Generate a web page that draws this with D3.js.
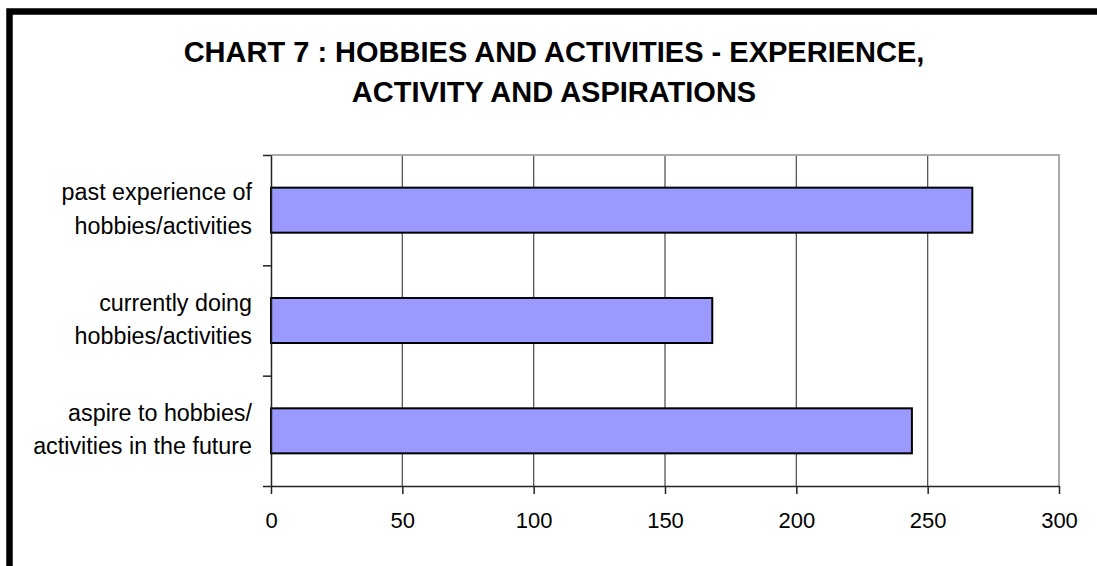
<!DOCTYPE html>
<html>
<head>
<meta charset="utf-8">
<script src="https://cdn.jsdelivr.net/npm/d3@7"></script>
<style>
  html, body { margin: 0; padding: 0; background: #fff; }
  svg { display: block; }
  text { font-family: "Liberation Sans", Arial, sans-serif; fill: #000; }
</style>
</head>
<body>
<svg id="chart" width="1097" height="566"></svg>
<script>
const categories = [
  ["past experience of", "hobbies/activities"],
  ["currently doing", "hobbies/activities"],
  ["aspire to hobbies/", "activities in the future"]
];
const values = [267, 168, 244];
const xTicks = [0, 50, 100, 150, 200, 250, 300];
const titleLines = ["CHART 7 : HOBBIES AND ACTIVITIES - EXPERIENCE,", "ACTIVITY AND ASPIRATIONS"];

const svg = d3.select("#chart");
const plot = { left: 271, right: 1059, top: 155, bottom: 486 };

// outer border (extends past right/bottom edges)
svg.append("rect")
  .attr("x", 9.5).attr("y", 11.5)
  .attr("width", 1300).attr("height", 800)
  .attr("fill", "#fff").attr("stroke", "#000").attr("stroke-width", 6.5);

// title
svg.append("g").selectAll("text").data(titleLines).join("text")
  .attr("x", 554).attr("y", (d, i) => 62 + i * 40)
  .attr("text-anchor", "middle")
  .attr("font-size", 29).attr("font-weight", "bold")
  .text(d => d);

const x = d3.scaleLinear().domain([0, 300]).range([plot.left, plot.right]);
const idx = categories.map((d, i) => i);
const y = d3.scaleBand().domain(idx).range([plot.top, plot.bottom])
  .paddingInner(0.592).paddingOuter(0.296);

// gridlines
svg.append("g").selectAll("line").data(xTicks.filter(t => t > 0 && t < 300)).join("line")
  .attr("x1", d => x(d)).attr("x2", d => x(d))
  .attr("y1", plot.top).attr("y2", plot.bottom)
  .attr("stroke", "#555").attr("stroke-width", 1.3);

// plot frame top and right (gray)
svg.append("path")
  .attr("d", `M${plot.left},${plot.top}H${plot.right}V${plot.bottom}`)
  .attr("fill", "none").attr("stroke", "#aaa").attr("stroke-width", 2);

// bars
svg.append("g").selectAll("rect").data(values).join("rect")
  .attr("x", x(0))
  .attr("y", (d, i) => y(i))
  .attr("width", d => x(d) - x(0))
  .attr("height", y.bandwidth())
  .attr("fill", "#9999FF")
  .attr("stroke", "#000").attr("stroke-width", 2);

// x axis
const xAxis = svg.append("g").attr("transform", `translate(0,${plot.bottom})`)
  .call(d3.axisBottom(x).tickValues(xTicks).tickSize(8).tickPadding(18).tickSizeOuter(0));
xAxis.select(".domain").attr("stroke", "#222").attr("stroke-width", 1.5);
xAxis.selectAll(".tick line").attr("stroke", "#222").attr("stroke-width", 1.5);
xAxis.selectAll(".tick text")
  .attr("font-family", "Liberation Sans, Arial, sans-serif")
  .attr("font-size", 22).attr("fill", "#000");

// y axis: ticks at band boundaries
const yScaleLine = d3.scaleLinear().domain([0, categories.length]).range([plot.top, plot.bottom]);
const yAxis = svg.append("g").attr("transform", `translate(${plot.left},0)`)
  .call(d3.axisLeft(yScaleLine).tickValues(d3.range(categories.length + 1)).tickSize(8).tickFormat("").tickSizeOuter(0));
yAxis.select(".domain").attr("stroke", "#222").attr("stroke-width", 1.5);
yAxis.selectAll(".tick line").attr("stroke", "#222").attr("stroke-width", 1.5);

// category labels
const lab = svg.append("g").selectAll("text").data(categories).join("text")
  .attr("text-anchor", "end")
  .attr("font-size", 23.3)
  .attr("x", 252)
  .attr("y", (d, i) => y(i) + y.bandwidth() / 2);
lab.selectAll("tspan").data(d => d).join("tspan")
  .attr("x", 252)
  .attr("dy", (d, j) => j === 0 ? -10 : 33.5)
  .text(d => d);
</script>
</body>
</html>
